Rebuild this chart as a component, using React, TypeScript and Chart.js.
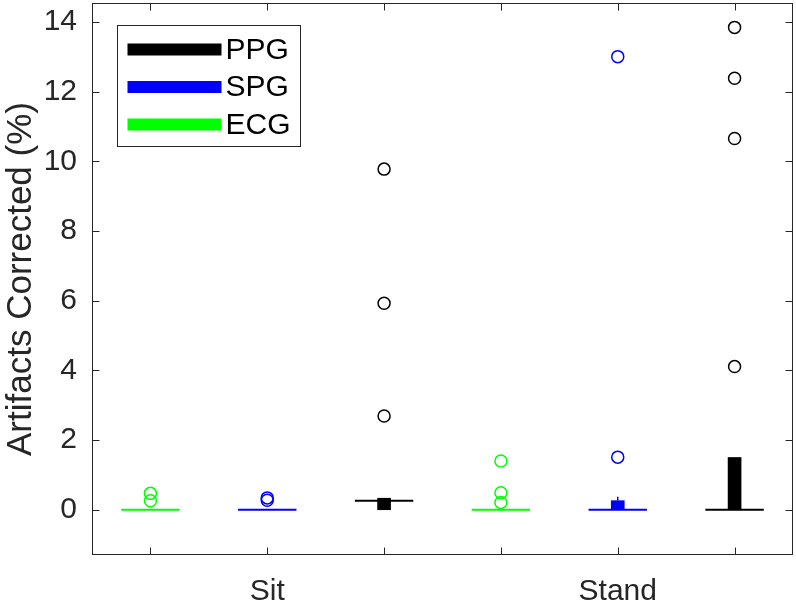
import React, { useEffect, useRef } from "react";
import { Chart, registerables } from "chart.js";

Chart.register(...registerables);

const conditions = ["Sit", "Stand"];
const conditionPositions = [2, 5];
const groupPositions = [1, 2, 3, 4, 5, 6];
const groupColors = ["#00ff00", "#0000ff", "#000000", "#00ff00", "#0000ff", "#000000"];
const medians = [0, 0, 0.26, 0, 0, 0];
const q1 = [0, 0, 0, 0, 0, 0];
const q3 = [0, 0, 0.33, 0, 0.26, 1.5];
const lowerWhisker = [0, 0, 0, 0, 0, 0];
const upperWhisker = [0, 0, 0.33, 0, 0.37, 1.5];
const outliers = [
  [0.47, 0.26],
  [0.34, 0.27],
  [9.78, 5.93, 2.69],
  [1.4, 0.49, 0.21],
  [13.01, 1.51],
  [13.85, 12.39, 10.66, 4.11],
];
const yTicks = [0, 2, 4, 6, 8, 10, 12, 14];
const legendNames = ["PPG", "SPG", "ECG"];
const legendColors = ["#000000", "#0000ff", "#00ff00"];

const FONT = "Arial, 'Liberation Sans', Helvetica, sans-serif";
const AXIS_COLOR = "#262626";
const MEDIAN_HALF = 0.25;

const framePlugin = {
  id: "frame",
  afterDatasetsDraw(chart: any) {
    const { ctx, chartArea } = chart;
    const xs = chart.scales.x;
    const ys = chart.scales.y;
    const L = Math.round(chartArea.left) + 0.5;
    const R = Math.round(chartArea.right) - 0.5;
    const T = Math.round(chartArea.top) + 0.5;
    const B = Math.round(chartArea.bottom) - 0.5;
    const tl = 7;
    ctx.save();
    ctx.strokeStyle = AXIS_COLOR;
    ctx.lineWidth = 1;
    ctx.strokeRect(L, T, R - L, B - T);
    ctx.beginPath();
    groupPositions.forEach((p) => {
      const x = Math.round(xs.getPixelForValue(p)) + 0.5;
      ctx.moveTo(x, B);
      ctx.lineTo(x, B - tl);
      ctx.moveTo(x, T);
      ctx.lineTo(x, T + tl);
    });
    yTicks.forEach((v) => {
      const y = Math.round(ys.getPixelForValue(v)) + 0.5;
      ctx.moveTo(L, y);
      ctx.lineTo(L + tl, y);
      ctx.moveTo(R, y);
      ctx.lineTo(R - tl, y);
    });
    ctx.stroke();

    // legend
    const lx = Math.round(chartArea.left) + 25.5;
    const ly = Math.round(chartArea.top) + 22.5;
    const lw = 183;
    const lh = 121;
    ctx.fillStyle = "#ffffff";
    ctx.fillRect(lx, ly, lw, lh);
    ctx.strokeStyle = AXIS_COLOR;
    ctx.strokeRect(lx, ly, lw, lh);
    ctx.font = `30px ${FONT}`;
    ctx.textBaseline = "middle";
    ctx.textAlign = "left";
    legendNames.forEach((name, i) => {
      const cy = ly + 24 + i * 37.5;
      ctx.fillStyle = legendColors[i];
      ctx.fillRect(lx + 10, cy - 6, 94, 12);
      ctx.fillStyle = "#000000";
      ctx.fillText(name, lx + 108, cy + 1);
    });
    ctx.restore();
  },
};

export default function App() {
  const ref = useRef<HTMLCanvasElement | null>(null);
  useEffect(() => {
    if (!ref.current) return;
    const datasets: any[] = [];
    groupPositions.forEach((p, i) => {
      datasets.push({
        type: "scatter",
        data: outliers[i].map((y) => ({ x: p, y })),
        pointStyle: "circle",
        pointRadius: 6,
        borderColor: groupColors[i],
        backgroundColor: "rgba(0,0,0,0)",
        borderWidth: 1.5,
        order: 1,
      });
      datasets.push({
        type: "line",
        data: [
          { x: p - MEDIAN_HALF, y: medians[i] },
          { x: p + MEDIAN_HALF, y: medians[i] },
        ],
        borderColor: groupColors[i],
        borderWidth: 2,
        pointRadius: 0,
        fill: false,
        order: 2,
      });
      datasets.push({
        type: "line",
        data: [
          { x: p, y: q3[i] },
          { x: p, y: upperWhisker[i] },
        ],
        borderColor: groupColors[i],
        borderWidth: 1.5,
        pointRadius: 0,
        fill: false,
        order: 3,
      });
      datasets.push({
        type: "line",
        data: [
          { x: p, y: lowerWhisker[i] },
          { x: p, y: q1[i] },
        ],
        borderColor: groupColors[i],
        borderWidth: 1.5,
        pointRadius: 0,
        fill: false,
        order: 3,
      });
    });
    datasets.push({
      type: "bar",
      data: groupPositions.map((p, i) => ({ x: p, y: [q1[i], q3[i]] })),
      backgroundColor: groupColors,
      borderWidth: 0,
      barThickness: 13,
      order: 4,
    });

    const chart = new Chart(ref.current, {
      type: "scatter",
      data: { datasets },
      options: {
        animation: false,
        responsive: false,
        layout: { autoPadding: false, padding: { top: 3, right: 3, left: 0, bottom: 0 } },
        plugins: { legend: { display: false }, tooltip: { enabled: false } },
        scales: {
          x: {
            type: "linear",
            min: 0.5,
            max: 6.5,
            offset: false,
            grid: { display: false, offset: false },
            border: { display: false },
            afterFit: (s: any) => {
              s.height = 47;
              s.paddingLeft = 0;
              s.paddingRight = 0;
              s.paddingTop = 0;
              s.paddingBottom = 0;
            },
            afterBuildTicks: (s: any) => {
              s.ticks = conditionPositions.map((v) => ({ value: v }));
            },
            ticks: {
              autoSkip: false,
              maxRotation: 0,
              padding: 11,
              color: AXIS_COLOR,
              font: { family: FONT, size: 30 },
              callback: (v: any) => {
                const idx = conditionPositions.indexOf(Number(v));
                return idx >= 0 ? conditions[idx] : "";
              },
            },
          },
          y: {
            type: "linear",
            min: -1.3,
            max: 14.55,
            grid: { display: false },
            border: { display: false },
            afterFit: (s: any) => {
              s.width = 92;
              s.paddingLeft = 0;
              s.paddingRight = 0;
              s.paddingTop = 0;
              s.paddingBottom = 0;
            },
            afterBuildTicks: (s: any) => {
              s.ticks = yTicks.map((v) => ({ value: v }));
            },
            ticks: {
              autoSkip: false,
              padding: 7,
              color: AXIS_COLOR,
              font: { family: FONT, size: 30 },
              callback: (v: any) => String(v),
            },
            title: {
              display: true,
              text: "Artifacts Corrected (%)",
              color: AXIS_COLOR,
              font: { family: FONT, size: 35 },
              padding: { top: 0, bottom: 0 },
            },
          },
        },
      },
      plugins: [framePlugin],
    } as any);
    return () => chart.destroy();
  }, []);

  return (
    <div style={{ position: "absolute", left: 0, top: 0, width: 796, height: 602, background: "#fff" }}>
      <canvas ref={ref} width={796} height={602} style={{ width: 796, height: 602, display: "block" }} />
    </div>
  );
}
